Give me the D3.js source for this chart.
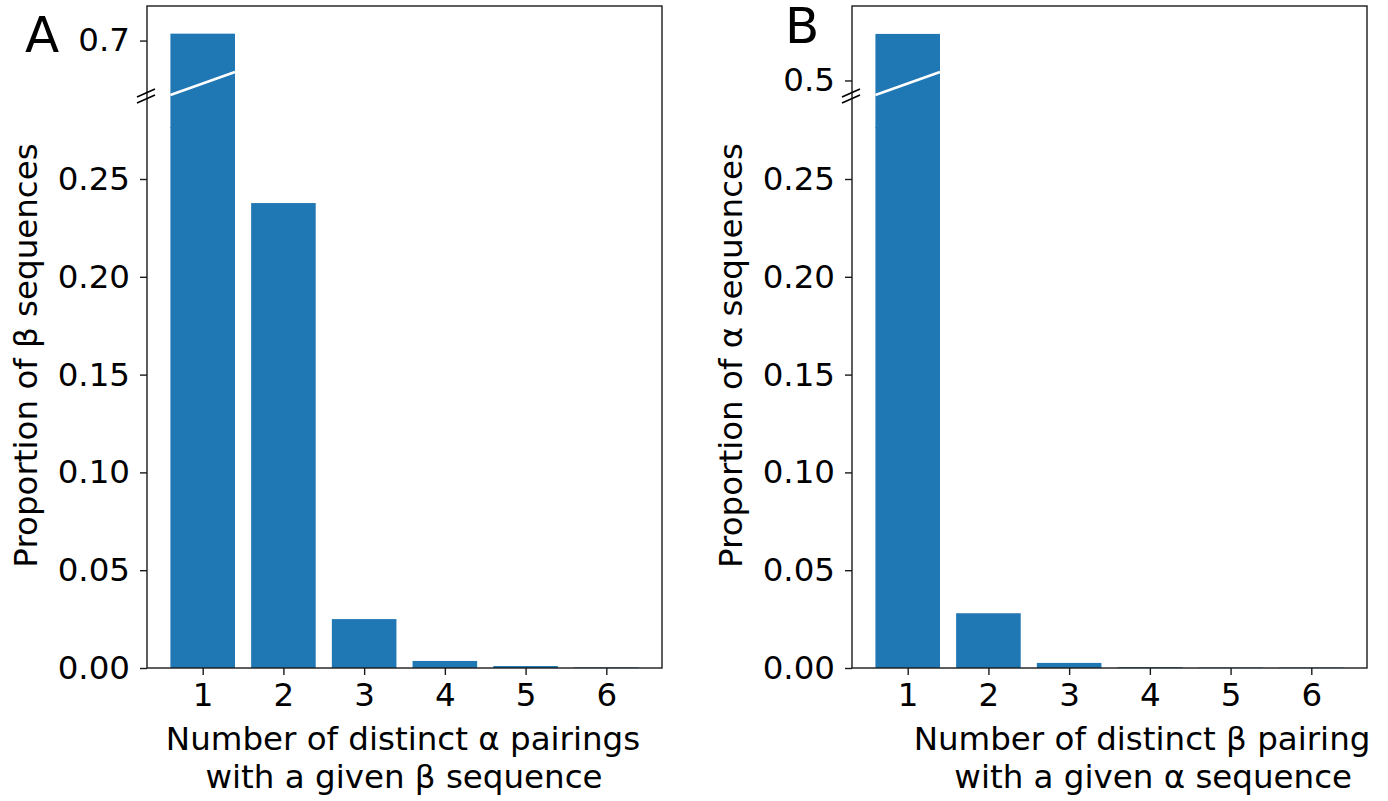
<!DOCTYPE html>
<html>
<head>
<meta charset="utf-8">
<script src="https://cdn.jsdelivr.net/npm/d3@7"></script>
<style>
  html, body { margin: 0; padding: 0; background: #fff; }
  svg { display: block; font-family: "DejaVu Sans", sans-serif; }
</style>
</head>
<body>
<svg id="chart" width="1388" height="801"></svg>
<script>
// ---- data ----
const categories = [1, 2, 3, 4, 5, 6];
const proportionsA = [0.708, 0.2377, 0.025, 0.0036, 0.0010, 0.0003];
const proportionsB = [0.55, 0.028, 0.0026, 0.0004, 0.0002, 0.0002];
const lowerTicks = [0.00, 0.05, 0.10, 0.15, 0.20, 0.25];
const upperTicksA = [0.7];
const upperTicksB = [0.5];
const xLabelA = ["Number of distinct α pairings", "with a given β sequence"];
const xLabelB = ["Number of distinct β pairing", " with a given α sequence"];
const yLabelA = "Proportion of β sequences";
const yLabelB = "Proportion of α sequences";
const panelLetters = ["A", "B"];

const svg = d3.select("#chart");
const barColor = "#1f77b4";
const spineColor = "#1a1a1a";
const fs = 32.5;

function drawPanel(opt) {
  const left = opt.left, right = opt.left + 515;
  const top = 6, bottom = 668, brk = 127;
  const g = svg.append("g");

  const x = d3.scaleLinear().domain([0.31, 6.69]).range([left, right]);
  const yLow = d3.scaleLinear().domain([0, (bottom - brk) / 1956]).range([bottom, brk]);
  const yHigh = d3.scaleLinear().domain(opt.upperDomain).range([brk, top]);
  const bw = x(1.4) - x(0.6);

  // bars lower part
  g.selectAll("rect.low").data(opt.values).join("rect")
    .attr("x", (d, i) => x(categories[i]) - bw / 2)
    .attr("width", bw)
    .attr("y", d => yLow(Math.min(d, yLow.domain()[1])))
    .attr("height", d => bottom - yLow(Math.min(d, yLow.domain()[1])))
    .attr("fill", barColor);
  // bars upper part
  g.selectAll("rect.high").data(opt.values.filter(v => v > opt.upperDomain[0])).join("rect")
    .attr("x", (d, i) => x(categories[i]) - bw / 2)
    .attr("width", bw)
    .attr("y", d => yHigh(d))
    .attr("height", d => brk - yHigh(d) + 1)
    .attr("fill", barColor);

  // white break line across bar 1
  g.append("line")
    .attr("x1", x(categories[0]) - bw / 2).attr("y1", 95)
    .attr("x2", x(categories[0]) + bw / 2).attr("y2", 72)
    .attr("stroke", "#fff").attr("stroke-width", 2.5);

  // frame
  g.append("rect").attr("x", left).attr("y", top)
    .attr("width", right - left).attr("height", bottom - top)
    .attr("fill", "none").attr("stroke", spineColor).attr("stroke-width", 1.4);

  // break marks on left spine
  [89, 95].forEach(yy => {
    g.append("line").attr("x1", left - 10).attr("y1", yy + 8)
      .attr("x2", left + 8).attr("y2", yy)
      .attr("stroke", "#000").attr("stroke-width", 1.6);
  });

  // lower y axis
  const yAxLow = d3.axisLeft(yLow).tickValues(lowerTicks).tickFormat(d3.format(".2f"))
    .tickSize(7).tickPadding(10);
  const ga = g.append("g").attr("transform", `translate(${left},0)`).call(yAxLow);
  ga.select(".domain").remove();
  // upper y axis
  const yAxHigh = d3.axisLeft(yHigh).tickValues(opt.upperTicks).tickFormat(d3.format(".1f"))
    .tickSize(7).tickPadding(10);
  const gb = g.append("g").attr("transform", `translate(${left},0)`).call(yAxHigh);
  gb.select(".domain").remove();
  // x axis
  const xAx = d3.axisBottom(x).tickValues(categories).tickFormat(d3.format("d"))
    .tickSize(7).tickPadding(8);
  const gc = g.append("g").attr("transform", `translate(0,${bottom})`).call(xAx);
  gc.select(".domain").remove();

  [ga, gb, gc].forEach(a => {
    a.selectAll("text").attr("font-size", fs).attr("font-family", "DejaVu Sans").attr("fill", "#000");
    a.selectAll("line").attr("stroke", spineColor).attr("stroke-width", 1.4);
  });

  // x label
  const xl = g.append("text").attr("font-size", fs).attr("fill", "#000")
    .attr("text-anchor", "middle").attr("xml:space", "preserve");
  opt.xLabel.forEach((line, i) => {
    xl.append("tspan").attr("x", opt.xLabelCx[i]).attr("y", 750 + i * 37.5).text(line);
  });

  // y label
  g.append("text").attr("font-size", fs).attr("fill", "#000")
    .attr("text-anchor", "middle")
    .attr("transform", `translate(${left - 110},355.5) rotate(-90)`)
    .text(opt.yLabel);

  // panel letter
  g.append("text").attr("font-size", 50).attr("fill", "#000")
    .attr("x", opt.letterPos[0]).attr("y", opt.letterPos[1]).text(opt.letter);
}

drawPanel({
  left: 147, values: proportionsA, upperDomain: [0.6, 0.74], upperTicks: upperTicksA,
  xLabel: xLabelA, xLabelCx: [403, 404], yLabel: yLabelA, letter: panelLetters[0], letterPos: [25, 52]
});
drawPanel({
  left: 852, values: proportionsB, upperDomain: [0.45, 0.58], upperTicks: upperTicksB,
  xLabel: xLabelB, xLabelCx: [1142, 1148], yLabel: yLabelB, letter: panelLetters[1], letterPos: [785, 43]
});
</script>
</body>
</html>
